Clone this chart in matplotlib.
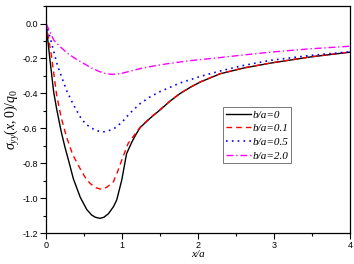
import matplotlib
matplotlib.use("Agg")
import matplotlib.pyplot as plt
from matplotlib.ticker import MultipleLocator

plt.rcParams['mathtext.fontset'] = 'custom'
plt.rcParams['mathtext.rm'] = 'Liberation Serif'
plt.rcParams['mathtext.it'] = 'Liberation Serif:italic'

x_b0 = [0, 0.05, 0.1, 0.14, 0.2, 0.25, 0.3, 0.36, 0.45, 0.535, 0.6, 0.65, 0.71, 0.76, 0.82, 0.886, 0.93, 0.996, 1.06, 1.13, 1.19, 1.24, 1.37, 1.5, 1.63, 1.76, 1.9, 2.03, 2.29, 2.6, 2.95, 3.47, 4.0]
y_b0 = [0, -0.2, -0.39, -0.49, -0.62, -0.71, -0.79, -0.89, -0.995, -1.065, -1.097, -1.11, -1.116, -1.11, -1.09, -1.05, -1.011, -0.897, -0.745, -0.678, -0.63, -0.595, -0.542, -0.495, -0.445, -0.402, -0.365, -0.335, -0.288, -0.255, -0.227, -0.192, -0.164]

x_b01 = [0, 0.07, 0.14, 0.2, 0.27, 0.35, 0.447, 0.52, 0.58, 0.65, 0.73, 0.8, 0.886, 0.94, 0.996, 1.08, 1.19, 1.24, 1.37, 1.5, 1.63, 1.76, 1.9, 2.03, 2.29, 2.6, 2.95, 3.47, 4.0]
y_b01 = [0, -0.18, -0.41, -0.54, -0.65, -0.75, -0.83, -0.885, -0.916, -0.94, -0.95, -0.938, -0.907, -0.85, -0.783, -0.687, -0.622, -0.593, -0.54, -0.493, -0.444, -0.401, -0.364, -0.334, -0.287, -0.254, -0.226, -0.191, -0.163]

x_b05 = [0, 0.06, 0.15, 0.27, 0.36, 0.45, 0.52, 0.6, 0.68, 0.75, 0.82, 0.9, 1.0, 1.1, 1.24, 1.37, 1.5, 1.76, 2.03, 2.29, 2.6, 2.95, 3.47, 4.0]
y_b05 = [0, -0.09, -0.24, -0.383, -0.465, -0.535, -0.575, -0.60, -0.615, -0.621, -0.615, -0.60, -0.565, -0.515, -0.458, -0.42, -0.39, -0.341, -0.303, -0.272, -0.24, -0.211, -0.183, -0.162]

x_b20 = [0, 0.105, 0.18, 0.28, 0.4, 0.5, 0.6, 0.7, 0.78, 0.86, 0.93, 1.0, 1.1, 1.24, 1.37, 1.6, 1.89, 2.29, 2.6, 2.95, 3.47, 4.0]
y_b20 = [0, -0.097, -0.13, -0.17, -0.205, -0.23, -0.255, -0.275, -0.286, -0.291, -0.29, -0.285, -0.274, -0.258, -0.247, -0.23, -0.213, -0.195, -0.18, -0.164, -0.145, -0.13]

labels = ['b/a=0', 'b/a=0.1', 'b/a=0.5', 'b/a=2.0']
x_ticks = [0, 1, 2, 3, 4]
y_ticks = [0.0, -0.2, -0.4, -0.6, -0.8, -1.0, -1.2]

fig = plt.figure(figsize=(3.54, 2.64), dpi=100)
ax = fig.add_axes([0.130, 0.1174, 0.859, 0.8596])

ax.plot(x_b0, y_b0, color='black', lw=1.0, ls='-', label=labels[0])
ax.plot(x_b01, y_b01, color='#ff0000', lw=1.0, ls=(0, (4, 3)), label=labels[1])
ax.plot(x_b05, y_b05, color='#0000ff', lw=1.2, ls=(0, (1, 2.5)), label=labels[2])
ax.plot(x_b20, y_b20, color='#ff00ff', lw=1.0, ls=(0, (5, 2, 1, 2)), label=labels[3])

ax.set_xlim(0, 4)
ax.set_ylim(-1.2, 0.1)
ax.set_xticks(x_ticks)
ax.set_yticks(y_ticks)
ax.set_xticklabels([str(v) for v in x_ticks])
ax.set_yticklabels(['%.1f' % v for v in y_ticks])
ax.xaxis.set_minor_locator(MultipleLocator(0.5))
ax.yaxis.set_minor_locator(MultipleLocator(0.1))
ax.tick_params(which='major', direction='out', length=4, width=0.8, labelsize=6.5, pad=2)
ax.tick_params(which='minor', direction='out', length=2, width=0.8)
for lab in ax.get_xticklabels() + ax.get_yticklabels():
    lab.set_fontfamily('Liberation Sans')
for s in ax.spines.values():
    s.set_linewidth(0.9)

ax.set_xlabel('x/a', fontfamily='Liberation Serif', style='italic', fontsize=8, labelpad=0)
ax.set_ylabel(r'$\sigma_{yy}(x,0)/q_0$', fontsize=10, labelpad=0)

leg = ax.legend(loc='upper left', bbox_to_anchor=(0.583, 0.555), frameon=True, fancybox=False,
                edgecolor='#555555', handlelength=2.2, handletextpad=0.2, borderpad=0.25,
                labelspacing=0.35, borderaxespad=0,
                prop={'family': 'Liberation Serif', 'style': 'italic', 'size': 8})
leg.get_frame().set_linewidth(0.7)

fig.savefig('out.png', dpi=100)
